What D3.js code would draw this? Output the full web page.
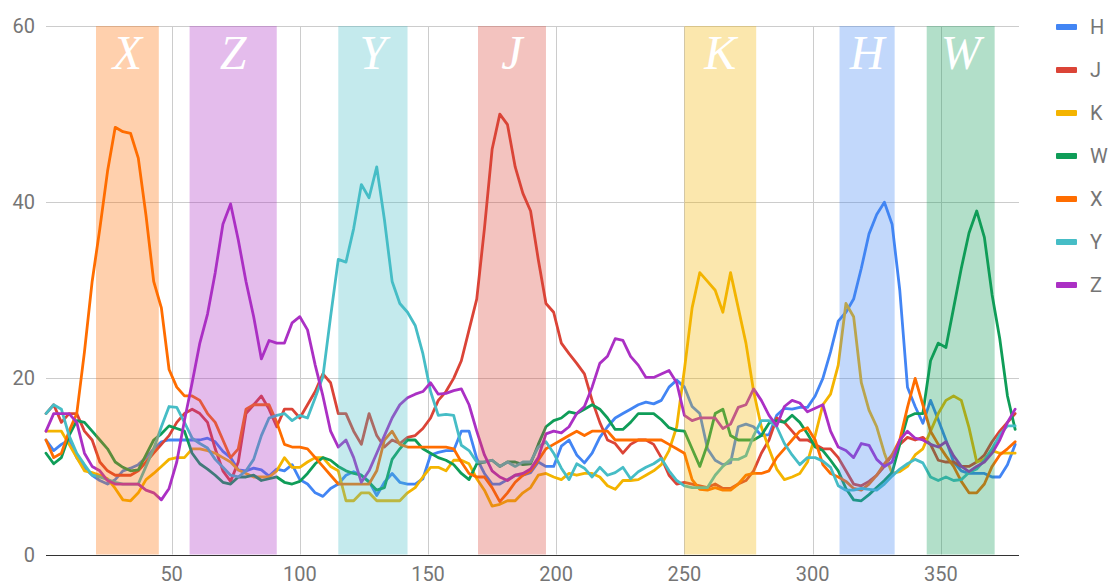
<!DOCTYPE html>
<html>
<head>
<meta charset="utf-8">
<script src="https://cdn.jsdelivr.net/npm/d3@7"></script>
<style>
  body { margin: 0; background: #fff; }
  svg { display: block; font-family: Roboto, "Noto Sans", Arial, sans-serif; }
</style>
</head>
<body>
<svg id="chart" width="1110" height="585"></svg>
<script>
// Series names and their colours
const seriesNames = ["H", "J", "K", "W", "X", "Y", "Z"];
const seriesColors = ["#4285F4", "#DB4437", "#F4B400", "#0F9D58", "#FF6D00", "#46BDC6", "#AB30C4"];

// Sample positions along the x axis (every third day)
const days = d3.range(1, 380, 3);

// Values per series, one per sample position
const H = [13,11.8,12.5,13,11,9.8,9,8.4,8,8.5,
  9.5,9.8,10.2,11,12,12.8,13,13,13,13,
  13,13.2,12.8,11.7,11,9.6,9.5,9.8,9.6,8.9,
  9.7,9.5,10.2,8.5,8,7,6.6,7.5,8,9,
  9.4,9,8.3,6.7,8.2,9.2,8.2,8,8,8.6,
  11.3,11.6,11.8,11.8,14,14,10.9,9.2,8,8,
  8.5,9,9,9.3,10.5,10,10,12.3,13,11.3,
  10.4,11.5,13.3,14.5,15.5,16,16.5,17,17.3,17.1,
  17.5,19,19.8,19,16.8,16,12,10.7,10.2,10.4,
  14.5,14.8,14.5,13.5,13.6,15.8,16.6,16.5,16.7,16.7,
  18,20,23,26.5,27.5,29,32.5,36.4,38.6,40,
  37.5,30,19,16.8,14.9,17.5,15.3,13,10.5,9.5,
  9.2,9.2,9.2,8.8,8.8,10.2,12.5];

const J = [16,17,15,16,16,14,13,10.5,9.5,9,
  9,9,9.5,10.5,11.5,12.5,13.5,15,16,16.5,
  16,15,12,9.5,8.3,10.5,16,17,18,16.5,
  14.5,16.5,16.5,15.5,17,18.5,20.5,19.5,16,16,
  14,12.5,16,13.5,12.2,13,12.6,13.3,13.5,14.3,
  15.5,17.5,18.5,20,22,25.5,29,37,46,50,
  48.8,44,41,39,33.5,28.5,27.5,24,22.8,21.7,
  20.5,17.5,15,13,12.6,11.5,12.5,13,13,12.5,
  11,9,8,8.2,8,7.8,7.6,8,7.5,7.5,
  8,8.4,9.5,11.5,13,15.5,15,14,13,13,
  12.5,12,12,11,9.5,8,7.8,8.3,9,10,
  11.3,12.5,13.3,13,13.3,12.5,10.7,10.5,10.5,10,
  10,10.5,11.3,12.8,14,15,16];

const K = [14,14,14,12.5,11,9.5,9.3,9,8.6,7.5,
  6.2,6.1,7,8.5,9.2,10,10.8,11,11,12,
  12,11.8,11.5,11,10.5,9.6,9.2,8.8,8.8,8.8,
  9.5,11,9.9,9.9,10.5,11,11,10,9.5,6.1,
  6.1,7,7,6.1,6.1,6.1,6.1,7,7.6,8.8,
  9.9,9.9,9.5,10.7,10.7,10.3,8.6,7.3,5.5,5.7,
  6.1,6.1,7,7.6,9,9.2,8.8,8.5,9.2,9,
  9.2,9.2,8.8,7.8,7.4,8.4,8.4,8.5,9,9.5,
  10.2,11.8,14.5,21,28,32,31,30,27.5,32,
  28,24,18.5,14.5,12,9.7,8.5,8.8,9.2,10.5,
  13.5,17,18.2,21.5,28.5,27,19.5,16.4,14.5,11.5,
  9.2,9.4,10,11.3,12,14,16,17.5,18,17.5,
  14.4,10.5,10.8,11.8,11.5,11.5,11.5];

const W = [11.5,10.3,11,13.5,15.2,15,14,13,12,10.5,
  9.9,9.5,9.6,11.3,13,13.7,14.6,14.3,14,11.5,
  10.3,9.7,9,8.2,8,8.8,8.8,9,8.4,8.6,
  8.8,8.2,8,8.3,9.2,10.3,11,10.7,10,9.5,
  9.2,9,8.2,7.3,7.6,10.8,12,13,13,12,
  11.5,11,10.7,10.2,9.2,8.5,10.3,10.5,10.7,10,
  10.5,10.5,10.2,10.3,12.5,14.5,15.2,15.5,16.2,16,
  16.5,17,16.5,15.5,14.2,14.2,15,16,16,16,
  15.3,14.4,14.1,14,12,10,12.5,16,16.5,13.5,
  13,13,13,13.5,14.9,15.2,15,15.8,15,13.7,
  12.2,11.8,10.7,9.5,7.5,6.2,6.1,6.8,7.6,8.4,
  9.3,12.5,15.6,16,16,22,24,23.5,28,32.5,
  36.5,39,36,29.5,24.5,18,14.2];

const X = [13,11,11.5,14,16,23,31,37,43.5,48.5,
  48,47.8,45,38.5,31,28,21,19,18,18,
  17.5,16,15,13,11,12,16.5,17,17,17,
  15,12.5,12.2,12.2,12,11,10,9,8,8,
  8,8,8,9.5,13,14,12.5,12.2,12.2,12.2,
  12.2,12.2,12.2,12,10.5,9.2,8.8,8.8,7.6,6,
  7,8.2,9,9.5,10.7,12,12.5,13,13.5,14,
  13.5,14,14,14,13,13,13,13,13,13,
  13,12.5,12,11.5,8.5,7.4,7.3,7.6,7.3,7.3,
  8,9,9.2,9.2,9.5,11,12,13,14,14.4,
  13,10.2,9.2,8.8,8.3,7.5,7.3,8,9,10.3,
  11.3,13,16.7,20,17,14,12.5,11.2,10,8.3,
  7,7,8,10,11.3,12,12.8];

const Y = [16,17,16.5,13.5,11.5,10.2,9,8.8,8.5,8.2,
  8,8,8,10,12,14.5,16.8,16.7,15,13.2,
  12.6,12.1,10.8,9.9,9,8.8,9.5,10.8,13.5,15.5,
  15.8,16,15.2,15.8,15.5,17.8,20.2,27,33.5,33.2,
  37,42,40.5,44,38,31,28.5,27.5,26,22.8,
  18.5,15.8,15.9,15.8,12.4,11.8,10.5,10.5,10.7,10,
  10.5,10,10.5,10.5,12.2,12.8,11.5,9.8,8.5,10.3,
  9.8,8.8,9.9,9,9.3,9.9,8.6,9.4,9.9,10.3,
  10.9,9.5,8.4,7.8,7.6,7.6,7.6,9,10,10.8,
  10.8,11.2,13.5,15.2,15.2,14.5,12.6,11.3,10.2,11,
  11,10.6,9.9,7.8,7.3,7.3,7.5,7.4,7.3,8,
  8.9,9.7,10.3,10.8,10.4,8.8,8.4,8.8,8.4,8.5,
  9.3,9.7,10.7,12,13.6,14.6,14.6];

const Z = [14,16,16,16,15,11.5,10,9.5,8.4,8,
  8,8,8,7.3,7,6.2,7.5,10.5,15.2,19.5,
  24,27.3,32,37.5,39.8,35.7,31,27,22.2,24.3,
  24,24,26.3,27,25.5,21.5,18,14,12.2,13,
  11,8.2,9.5,11.5,13.5,15.5,17,17.8,18.2,18.5,
  19.5,18.2,18.3,18.6,18.8,17,14,11.3,9.5,8.8,
  8.4,9,9.2,9.7,11,13.7,14,13.8,14.5,16,
  16.8,19,21.7,22.5,24.5,24.3,22.5,21.5,20.1,20.1,
  20.5,20.9,19.5,15.8,15.2,15.5,15.5,15.5,14.3,14.8,
  16.7,17,18.8,17.5,15.8,14.6,16.8,17.5,17.2,16.2,
  16.6,17,14,12.2,11.8,11,12.6,12.4,10.8,10,
  10.5,13,14,13.2,13,12.5,12.2,12.8,11.2,10,
  9.4,10,10.5,11.5,13,15,16.5];

const seriesValues = [H, J, K, W, X, Y, Z];

// Highlighted intervals, one per series
const bandLabels = ["X", "Z", "Y", "J", "K", "H", "W"];
const bandStart = [20.5, 57, 115, 169.5, 250, 310.5, 344.5];
const bandEnd = [45, 91, 142, 196, 278, 332, 371];

// Axis ticks
const xTicks = [50, 100, 150, 200, 250, 300, 350];
const yTicks = [0, 20, 40, 60];

const svg = d3.select("#chart");
const plotLeft = 46, plotRight = 1019, plotTop = 26, plotBottom = 554.5;

const x = d3.scaleLinear().domain([1, 380.5]).range([plotLeft, plotRight]);
const y = d3.scaleLinear().domain([0, 60]).range([plotBottom, plotTop]);
const colorOf = d3.scaleOrdinal().domain(seriesNames).range(seriesColors);

// Grid
const grid = svg.append("g");
grid.selectAll("line.gx").data(xTicks).join("line")
  .attr("x1", d => Math.round(x(d)) + 0.5).attr("x2", d => Math.round(x(d)) + 0.5)
  .attr("y1", plotTop).attr("y2", plotBottom)
  .attr("stroke", "#cccccc").attr("stroke-width", 1);
grid.selectAll("line.gy").data(yTicks.filter(d => d > 0)).join("line")
  .attr("x1", plotLeft).attr("x2", plotRight)
  .attr("y1", d => Math.round(y(d)) + 0.5).attr("y2", d => Math.round(y(d)) + 0.5)
  .attr("stroke", "#cccccc").attr("stroke-width", 1);

// Lines
const line = d3.line()
  .x((d, i) => x(days[i]))
  .y(d => y(d));

svg.append("g").selectAll("path").data(seriesValues).join("path")
  .attr("d", d => line(d))
  .attr("fill", "none")
  .attr("stroke", (d, i) => seriesColors[i])
  .attr("stroke-width", 2.8)
  .attr("stroke-linejoin", "round")
  .attr("stroke-linecap", "round");

// Bands on top of the lines
const bands = bandLabels.map((lab, i) => ({ lab, s: bandStart[i], e: bandEnd[i] }));
svg.append("g").selectAll("rect").data(bands).join("rect")
  .attr("x", d => x(d.s)).attr("width", d => x(d.e) - x(d.s))
  .attr("y", plotTop).attr("height", plotBottom - plotTop)
  .attr("fill", d => colorOf(d.lab))
  .attr("fill-opacity", 0.32);

svg.append("g").selectAll("text").data(bands).join("text")
  .attr("x", d => (x(d.s) + x(d.e)) / 2)
  .attr("y", 69)
  .attr("text-anchor", "middle")
  .attr("fill", "#ffffff")
  .style("font-family", "'Liberation Serif', 'DejaVu Serif', serif")
  .style("font-style", "italic")
  .style("font-size", "48px")
  .text(d => d.lab);

// Baseline
svg.append("line")
  .attr("x1", plotLeft).attr("x2", plotRight)
  .attr("y1", Math.round(y(0)) + 0.5).attr("y2", Math.round(y(0)) + 0.5)
  .attr("stroke", "#333333").attr("stroke-width", 1.2);

// Tick labels
svg.append("g").selectAll("text").data(yTicks).join("text")
  .attr("x", 35).attr("y", d => y(d) + 7)
  .attr("text-anchor", "end")
  .attr("fill", "#757575")
  .style("font-size", "20px")
  .text(d => d);

svg.append("g").selectAll("text").data(xTicks).join("text")
  .attr("x", d => x(d)).attr("y", 581)
  .attr("text-anchor", "middle")
  .attr("fill", "#757575")
  .style("font-size", "20px")
  .text(d => d);

// Legend
const legend = svg.append("g").selectAll("g").data(seriesNames).join("g")
  .attr("transform", (d, i) => `translate(1056, ${27 + i * 43})`);
legend.append("rect")
  .attr("x", 0).attr("y", -3).attr("width", 21).attr("height", 6).attr("rx", 1)
  .attr("fill", d => colorOf(d));
legend.append("text")
  .attr("x", 34).attr("y", 7)
  .attr("fill", "#757575")
  .style("font-size", "20px")
  .text(d => d);
</script>
</body>
</html>
